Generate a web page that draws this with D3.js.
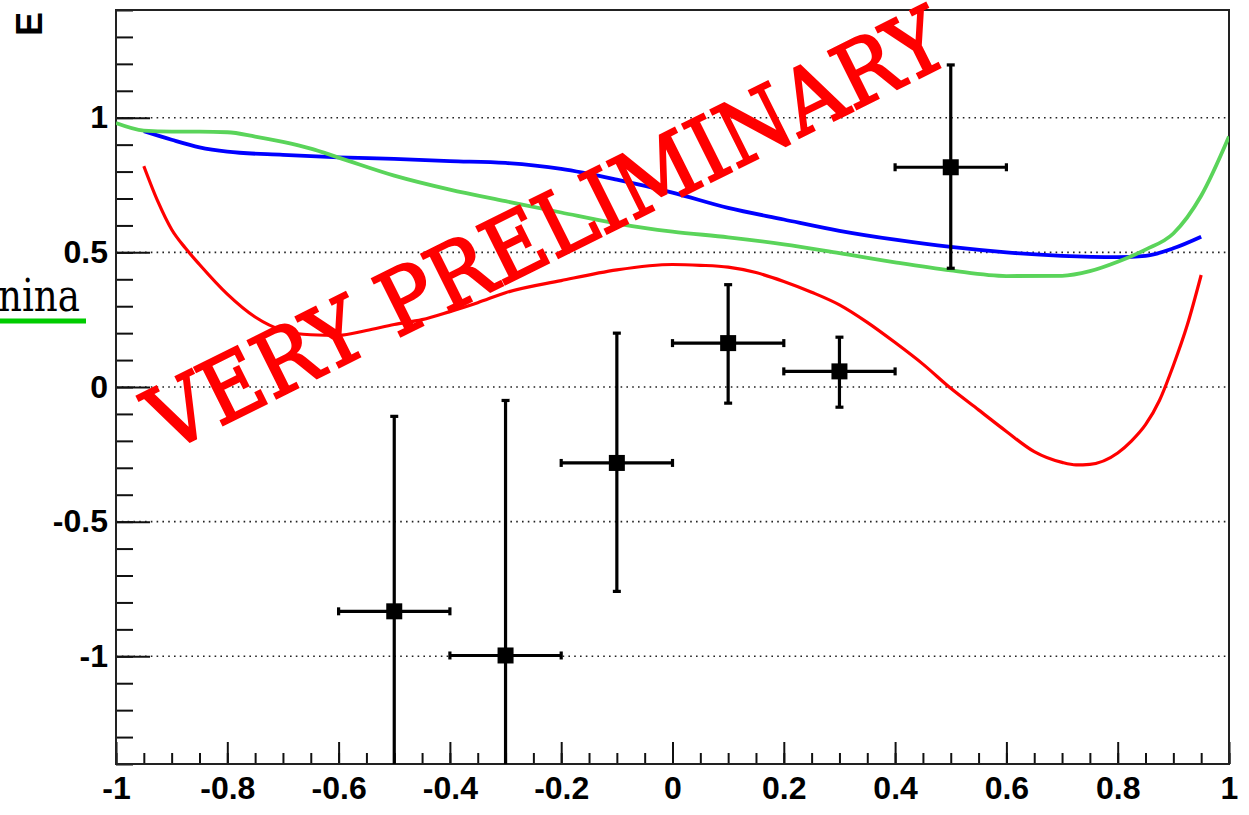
<!DOCTYPE html>
<html>
<head>
<meta charset="utf-8">
<script src="https://cdn.jsdelivr.net/npm/d3@7"></script>
<style>
  html, body { margin: 0; padding: 0; background: #fff; }
  svg { display: block; }
</style>
</head>
<body>
<svg id="chart" width="1249" height="815"></svg>
<script>
// Measured points: x position, half-width, value, upper and lower error ends
const pointX    = [-0.5, -0.3, -0.1, 0.1, 0.3, 0.5];
const pointXErr = [0.1, 0.1, 0.1, 0.1, 0.1, 0.1];
const pointY    = [-0.833, -0.997, -0.282, 0.163, 0.058, 0.816];
const pointYHi  = [-0.109, -0.05, 0.2, 0.38, 0.185, 1.196];
const pointYLo  = [-1.56, -1.95, -0.759, -0.06, -0.075, 0.441];

// Model curves
const blueX = [-0.95, -0.9, -0.85, -0.8, -0.7, -0.6, -0.5, -0.4, -0.3, -0.2, -0.1, 0, 0.1, 0.2, 0.3, 0.4, 0.5, 0.6, 0.7, 0.8, 0.85, 0.9, 0.95];
const blueY = [0.95, 0.918, 0.89, 0.874, 0.862, 0.853, 0.847, 0.839, 0.832, 0.81, 0.77, 0.722, 0.665, 0.622, 0.58, 0.547, 0.52, 0.5, 0.487, 0.482, 0.487, 0.515, 0.558];

const greenX = [-1, -0.95, -0.9, -0.85, -0.8, -0.75, -0.7, -0.65, -0.6, -0.5, -0.4, -0.3, -0.2, -0.1, 0, 0.1, 0.2, 0.3, 0.4, 0.5, 0.6, 0.7, 0.75, 0.8, 0.85, 0.9, 0.95, 1];
const greenY = [0.98, 0.952, 0.948, 0.948, 0.946, 0.93, 0.91, 0.885, 0.852, 0.785, 0.733, 0.69, 0.648, 0.607, 0.577, 0.556, 0.53, 0.497, 0.463, 0.433, 0.412, 0.413, 0.43, 0.465, 0.51, 0.57, 0.71, 0.93];

const redX = [-0.95, -0.925, -0.9, -0.875, -0.85, -0.8, -0.75, -0.7, -0.65, -0.6, -0.55, -0.5, -0.45, -0.4, -0.35, -0.3, -0.2, -0.1, 0, 0.05, 0.1, 0.15, 0.2, 0.25, 0.3, 0.35, 0.4, 0.45, 0.5, 0.55, 0.6, 0.65, 0.7, 0.725, 0.75, 0.8, 0.825, 0.85, 0.875, 0.9, 0.925, 0.95];
const redY = [0.82, 0.69, 0.585, 0.515, 0.455, 0.345, 0.26, 0.21, 0.194, 0.192, 0.21, 0.232, 0.25, 0.28, 0.313, 0.35, 0.395, 0.435, 0.455, 0.452, 0.445, 0.425, 0.392, 0.352, 0.305, 0.24, 0.165, 0.085, -0.005, -0.085, -0.165, -0.24, -0.28, -0.289, -0.287, -0.245, -0.2, -0.14, -0.05, 0.08, 0.23, 0.416];

// Axis ticks and labels
const xMajorTicks = [-1, -0.8, -0.6, -0.4, -0.2, 0, 0.2, 0.4, 0.6, 0.8, 1];
const xTickLabels = ["-1", "-0.8", "-0.6", "-0.4", "-0.2", "0", "0.2", "0.4", "0.6", "0.8", "1"];
const yMajorTicks = [-1, -0.5, 0, 0.5, 1];
const yTickLabels = ["-1", "-0.5", "0", "0.5", "1"];
const yAxisTitle = "E";
const watermark = "VERY PRELIMINARY";
const legendText = "nina";

const svg = d3.select("#chart");
const frameL = 116, frameR = 1229, frameT = 10, frameB = 764;

const x = d3.scaleLinear().domain([-1, 1]).range([frameL, frameR]);
const y = d3.scaleLinear().domain([-1.4, 1.4]).range([frameB, frameT]);

svg.append("defs").append("clipPath").attr("id", "frameClip")
  .append("rect").attr("x", frameL).attr("y", frameT)
  .attr("width", frameR - frameL).attr("height", frameB - frameT);

// Dotted horizontal grid at major y ticks
svg.append("g").selectAll("line").data(yMajorTicks).join("line")
  .attr("x1", frameL).attr("x2", frameR)
  .attr("y1", d => y(d)).attr("y2", d => y(d))
  .attr("stroke", "#222").attr("stroke-width", 1.6)
  .attr("stroke-dasharray", "1.6,4.2");

// X axis: minor ticks every 0.05, majors every 0.2
const xMinor = d3.range(-1, 1.0001, 0.05).map(v => +v.toFixed(2));
const xAxisMinor = d3.axisBottom(x).tickValues(xMinor).tickSize(-11).tickFormat("");
const xAxisMajor = d3.axisBottom(x).tickValues(xMajorTicks).tickSize(-22)
  .tickFormat((d, i) => xTickLabels[i]).tickPadding(12);

const gxm = svg.append("g").attr("transform", `translate(0,${frameB})`).call(xAxisMinor);
const gx = svg.append("g").attr("transform", `translate(0,${frameB})`).call(xAxisMajor);
[gxm, gx].forEach(g => {
  g.select(".domain").remove();
  g.selectAll(".tick line").attr("stroke", "#111").attr("stroke-width", 2);
});
gx.selectAll(".tick text")
  .attr("font-family", "'Liberation Sans', Arial, sans-serif")
  .attr("font-weight", "bold").attr("font-size", 32).attr("fill", "#000")
  .attr("y", 12).attr("dy", "0.72em");

// Y axis: minor ticks every 0.1, majors every 0.5
const yMinor = d3.range(-1.4, 1.4001, 0.1).map(v => +v.toFixed(2));
const yAxisMinor = d3.axisLeft(y).tickValues(yMinor).tickSize(-17).tickFormat("");
const yAxisMajor = d3.axisLeft(y).tickValues(yMajorTicks).tickSize(-34)
  .tickFormat((d, i) => yTickLabels[i]).tickPadding(8);

const gym = svg.append("g").attr("transform", `translate(${frameL},0)`).call(yAxisMinor);
const gy = svg.append("g").attr("transform", `translate(${frameL},0)`).call(yAxisMajor);
[gym, gy].forEach(g => {
  g.select(".domain").remove();
  g.selectAll(".tick line").attr("stroke", "#111").attr("stroke-width", 2);
});
gy.selectAll(".tick text")
  .attr("font-family", "'Liberation Sans', Arial, sans-serif")
  .attr("font-weight", "bold").attr("font-size", 32).attr("fill", "#000")
  .attr("x", -8);

// Frame
svg.append("rect")
  .attr("x", frameL).attr("y", frameT)
  .attr("width", frameR - frameL).attr("height", frameB - frameT)
  .attr("fill", "none").attr("stroke", "#222").attr("stroke-width", 2);

// Axis title
svg.append("text")
  .attr("transform", `translate(42,12) rotate(-90)`)
  .attr("text-anchor", "end")
  .attr("font-family", "'Liberation Sans', Arial, sans-serif")
  .attr("font-weight", "bold").attr("font-size", 36)
  .text(yAxisTitle);

// Curves
const plot = svg.append("g").attr("clip-path", "url(#frameClip)");
const line = d3.line().x(d => x(d[0])).y(d => y(d[1])).curve(d3.curveMonotoneX);

function drawCurve(xs, ys, color, width) {
  plot.append("path")
    .datum(d3.zip(xs, ys))
    .attr("d", line)
    .attr("fill", "none")
    .attr("stroke", color)
    .attr("stroke-width", width)
    .attr("stroke-linejoin", "round");
}
drawCurve(blueX, blueY, "#0000ff", 3.8);
drawCurve(greenX, greenY, "#5ad45a", 3.8);
drawCurve(redX, redY, "#ff0000", 3.2);

// Data points with error bars
const pts = pointX.map((v, i) => ({
  x: v, xe: pointXErr[i], y: pointY[i], hi: pointYHi[i], lo: pointYLo[i]
}));
const capHalf = 4;
const eb = plot.append("g").attr("stroke", "#000").attr("stroke-width", 3.2);
pts.forEach(p => {
  eb.append("line").attr("x1", x(p.x - p.xe)).attr("x2", x(p.x + p.xe))
    .attr("y1", y(p.y)).attr("y2", y(p.y));
  eb.append("line").attr("x1", x(p.x)).attr("x2", x(p.x))
    .attr("y1", y(p.hi)).attr("y2", y(p.lo));
  [p.x - p.xe, p.x + p.xe].forEach(xv => {
    eb.append("line").attr("x1", x(xv)).attr("x2", x(xv))
      .attr("y1", y(p.y) - capHalf).attr("y2", y(p.y) + capHalf);
  });
  [p.hi, p.lo].forEach(yv => {
    eb.append("line").attr("x1", x(p.x) - capHalf).attr("x2", x(p.x) + capHalf)
      .attr("y1", y(yv)).attr("y2", y(yv));
  });
});
plot.append("g").selectAll("rect").data(pts).join("rect")
  .attr("x", d => x(d.x) - 8).attr("y", d => y(d.y) - 8)
  .attr("width", 16).attr("height", 16).attr("fill", "#000");

// Partial legend entry at the left edge
svg.append("text")
  .attr("x", 80).attr("y", 311)
  .attr("text-anchor", "end")
  .attr("font-family", "'DejaVu Serif', serif")
  .attr("font-size", 44)
  .attr("textLength", 82)
  .attr("lengthAdjust", "spacingAndGlyphs")
  .attr("fill", "#000")
  .text(legendText);
svg.append("line")
  .attr("x1", 0).attr("x2", 86).attr("y1", 321).attr("y2", 321)
  .attr("stroke", "#00cc00").attr("stroke-width", 5);

// Watermark
svg.append("text")
  .attr("transform", "translate(560,257) rotate(-26.5)")
  .attr("text-anchor", "middle")
  .attr("font-family", "'DejaVu Serif', serif")
  .attr("font-size", 88)
  .attr("fill", "#ff0000")
  .attr("stroke", "#ff0000")
  .attr("stroke-width", 2.4)
  .attr("stroke-linejoin", "miter")
  .attr("textLength", 880)
  .attr("lengthAdjust", "spacingAndGlyphs")
  .text(watermark);
</script>
</body>
</html>
